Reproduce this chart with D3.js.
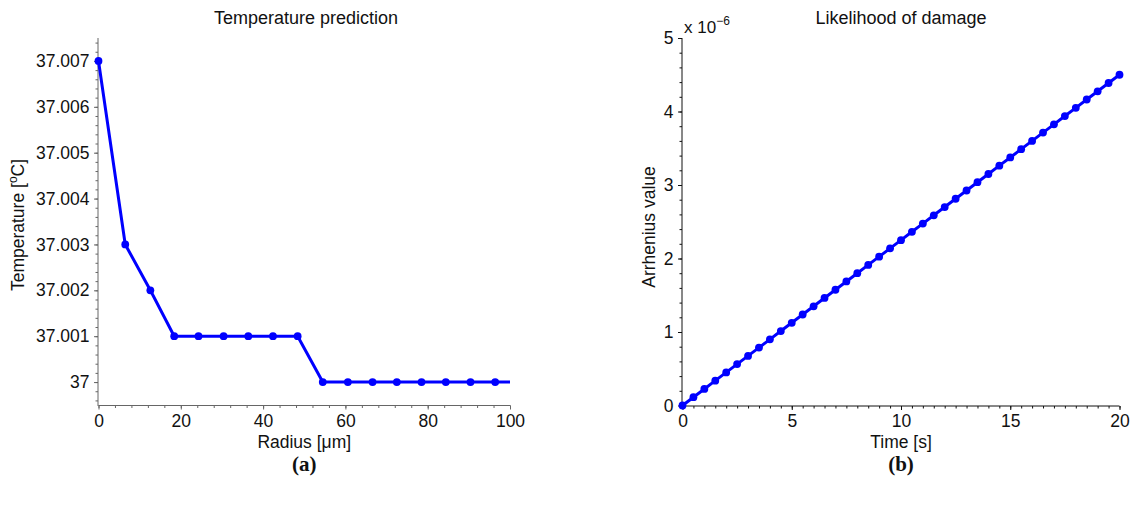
<!DOCTYPE html>
<html lang="en">
<head>
<meta charset="UTF-8">
<title>Temperature / damage</title>
<script src="https://d3js.org/d3.v7.min.js"></script>
<style>
  body { margin: 0; background: #fff; }
  text { font-family: "Liberation Sans", Arial, sans-serif; fill: #111; }
  .caption { font-family: "Liberation Serif", "DejaVu Serif", serif; font-weight: bold; font-size: 21px; }
</style>
</head>
<body>
<script>
// left panel: temperature vs radius
const radius = [0, 6.5, 12.6, 18.4, 24.3, 30.4, 36.4, 42.4, 48.4, 54.5, 60.6, 66.6, 72.5, 78.5, 84.4, 90.4, 96.4];
const temperature = [37.007, 37.003, 37.002, 37.001, 37.001, 37.001, 37.001, 37.001, 37.001,
                     37, 37, 37, 37, 37, 37, 37, 37];
const radiusEnd = 100; // line runs on to the axis end
const tempTicks = [37, 37.001, 37.002, 37.003, 37.004, 37.005, 37.006, 37.007];
const radiusTicks = [0, 20, 40, 60, 80, 100];

// right panel: arrhenius vs time (values in units of 1e-6)
const time = [0, 0.5, 1, 1.5, 2, 2.5, 3, 3.5, 4, 4.5, 5, 5.5, 6, 6.5, 7, 7.5, 8, 8.5, 9, 9.5, 10,
              10.5, 11, 11.5, 12, 12.5, 13, 13.5, 14, 14.5, 15, 15.5, 16, 16.5, 17, 17.5, 18, 18.5, 19, 19.5, 20];
const arrhenius = [0, 0.113, 0.225, 0.338, 0.45, 0.563, 0.675, 0.788, 0.9, 1.013, 1.125, 1.238, 1.35,
                   1.463, 1.575, 1.688, 1.8, 1.913, 2.025, 2.138, 2.25, 2.363, 2.475, 2.588, 2.7, 2.813,
                   2.925, 3.038, 3.15, 3.263, 3.375, 3.488, 3.6, 3.713, 3.825, 3.938, 4.05, 4.163, 4.275,
                   4.388, 4.5];
const arrTicks = [0, 1, 2, 3, 4, 5];
const timeTicks = [0, 5, 10, 15, 20];

const W = 1138, H = 507;
const svg = d3.select("body").append("svg").attr("width", W).attr("height", H);

const blue = "#0000ff";

function panel(opts) {
  const g = svg.append("g");
  const x = d3.scaleLinear().domain(opts.xDomain).range([opts.left, opts.right]);
  const y = d3.scaleLinear().domain(opts.yDomain).range([opts.bottom, opts.top]);

  // minor ticks
  const xMinor = d3.range(opts.xDomain[0], opts.xDomain[1] + 1e-9, opts.xMinorStep);
  const yMinor = d3.range(opts.yMinorStart, opts.yDomain[1] + 1e-12, opts.yMinorStep);

  const xAxis = g.append("g")
    .attr("transform", `translate(0,${opts.bottom + 0.5})`)
    .call(d3.axisBottom(x).tickValues(xMinor).tickSize(2.5).tickFormat(""));
  xAxis.select(".domain").remove();
  xAxis.selectAll("line").attr("stroke", opts.axisColor);
  g.append("g")
    .attr("transform", `translate(0,${opts.bottom + 0.5})`)
    .call(d3.axisBottom(x).tickValues(opts.xTicks).tickSize(4).tickSizeOuter(0).tickPadding(5)
      .tickFormat(opts.xFmt))
    .call(a => a.select(".domain").attr("d", `M${opts.left},0H${opts.right}`))
    .call(a => a.selectAll("text").attr("font-size", 17.5).attr("font-family", null))
    .call(a => a.selectAll("path,line").attr("stroke", opts.axisColor));

  const yAxis = g.append("g")
    .attr("transform", `translate(${opts.left - 0.5},0)`)
    .call(d3.axisLeft(y).tickValues(yMinor).tickSize(2.5).tickFormat(""));
  yAxis.select(".domain").remove();
  yAxis.selectAll("line").attr("stroke", opts.axisColor);
  g.append("g")
    .attr("transform", `translate(${opts.left - 0.5},0)`)
    .call(d3.axisLeft(y).tickValues(opts.yTicks).tickSize(4).tickSizeOuter(0).tickPadding(4.5)
      .tickFormat(opts.yFmt))
    .call(a => a.select(".domain").attr("d", `M0,${opts.top}V${opts.bottom + 1}`))
    .call(a => a.selectAll("text").attr("font-size", 17.5).attr("font-family", null))
    .call(a => a.selectAll("path,line").attr("stroke", opts.axisColor));

  const line = d3.line().x(d => x(d[0])).y(d => y(d[1]));
  g.append("path")
    .datum(opts.lineData)
    .attr("d", line)
    .attr("fill", "none")
    .attr("stroke", blue)
    .attr("stroke-width", 3)
    .attr("stroke-linejoin", "round");

  g.selectAll("circle.m")
    .data(opts.points)
    .enter().append("circle")
    .attr("class", "m")
    .attr("cx", d => x(d[0]))
    .attr("cy", d => y(d[1]))
    .attr("r", 3.9)
    .attr("fill", blue);

  // title and labels
  const cx = (opts.left + opts.right) / 2;
  g.append("text").attr("x", opts.titleX).attr("y", 24).attr("text-anchor", "middle")
    .attr("font-size", 18).text(opts.title);
  const xl = g.append("text").attr("x", cx).attr("y", 448).attr("text-anchor", "middle")
    .attr("font-size", 17.5);
  opts.xLabel(xl);
  const yl = g.append("text")
    .attr("transform", `translate(${opts.yLabelX},${opts.yLabelY}) rotate(-90)`)
    .attr("text-anchor", "middle").attr("font-size", 17.5);
  opts.yLabel(yl);
  g.append("text").attr("class", "caption").attr("x", cx).attr("y", 471)
    .attr("text-anchor", "middle").text(opts.caption);
  return { g, x, y };
}

panel({
  left: 98.5, right: 510, top: 38, bottom: 405,
  xDomain: [0, 100], yDomain: [36.9995, 37.0075],
  xTicks: radiusTicks, yTicks: tempTicks,
  xMinorStep: 4, yMinorStart: 36.9996, yMinorStep: 0.0002,
  xFmt: d3.format("d"), yFmt: d => d === 37 ? "37" : d3.format(".3f")(d),
  lineData: radius.map((r, i) => [r, temperature[i]]).concat([[radiusEnd, temperature[temperature.length - 1]]]),
  points: radius.map((r, i) => [r, temperature[i]]),
  axisColor: "#666",
  title: "Temperature prediction", titleX: 306,
  xLabel: t => { t.append("tspan").text("Radius [\u03bcm]"); },
  yLabelX: 24, yLabelY: 225,
  yLabel: t => {
    t.append("tspan").text("Temperature [");
    t.append("tspan").attr("font-size", 12).attr("dy", -7).text("o");
    t.append("tspan").attr("dy", 7).text("C]");
  },
  caption: "(a)"
});

const right = panel({
  left: 682.5, right: 1119.5, top: 38, bottom: 405.5,
  xDomain: [0, 20], yDomain: [0, 5],
  xTicks: timeTicks, yTicks: arrTicks,
  xMinorStep: 0.5, yMinorStart: 0, yMinorStep: 0.2,
  xFmt: d3.format("d"), yFmt: d3.format("d"),
  lineData: time.map((t, i) => [t, arrhenius[i]]),
  points: time.map((t, i) => [t, arrhenius[i]]),
  axisColor: "#111",
  title: "Likelihood of damage", titleX: 901,
  xLabel: t => { t.append("tspan").text("Time [s]"); },
  yLabelX: 655, yLabelY: 227,
  yLabel: t => { t.append("tspan").text("Arrhenius value"); },
  caption: "(b)"
});

// exponent marker
const ex = right.g.append("text").attr("x", 684).attr("y", 33).attr("font-size", 17);
ex.append("tspan").text("x 10");
ex.append("tspan").attr("font-size", 12).attr("dy", -8).text("\u22126");
</script>
</body>
</html>
